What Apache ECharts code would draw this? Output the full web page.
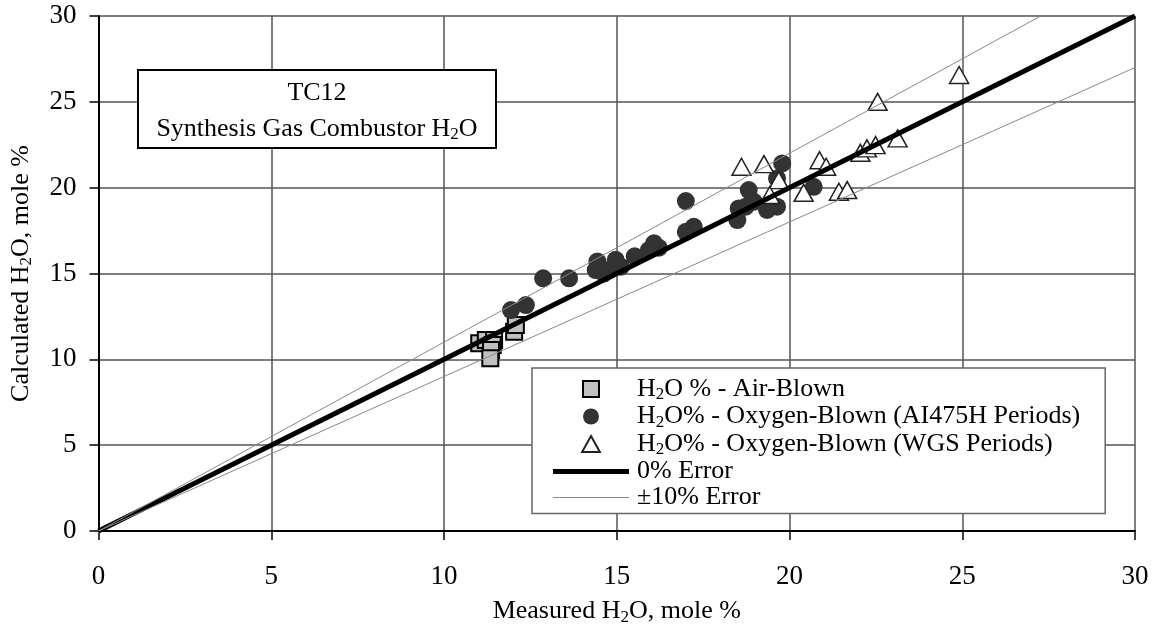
<!DOCTYPE html>
<html><head><meta charset="utf-8">
<script src="https://cdn.jsdelivr.net/npm/echarts@6/dist/echarts.min.js"></script>
<style>html,body{margin:0;padding:0;background:#fff}#c{width:1157px;height:632px}</style>
</head><body><div id="c"></div>
<script>
// ---- data ----
const axisMin = 0, axisMax = 30, axisStep = 5;
const seriesNames = [
  'H2O % - Air-Blown',
  'H2O% - Oxygen-Blown (AI475H Periods)',
  'H2O% - Oxygen-Blown (WGS Periods)',
  '0% Error',
  '±10% Error'
];
const airBlown = [
  [11.02,10.93],[11.21,11.12],[11.45,11.12],[11.41,10.83],[11.36,10.54],[11.34,10.06],[12.03,11.61],[12.08,12.0]
];
const oxyAI475H = [
  [11.94,12.87],[12.37,13.16],[12.87,14.72],[13.62,14.72],[14.39,15.2],[14.44,15.7],[14.63,15.0],[14.78,15.2],
  [14.97,15.8],[15.12,15.4],[15.52,16.0],[15.93,16.36],[16.08,16.76],[16.22,16.5],[17.0,19.22],[17.0,17.43],
  [17.23,17.72],[18.49,18.11],[18.53,18.79],[18.73,18.89],[18.82,19.86],[18.97,19.18],[19.35,18.7],[19.64,18.89],
  [19.64,20.54],[19.79,21.41],[20.7,20.05]
];
const oxyWGS = [
  [18.61,21.22],[19.26,21.37],[19.69,20.44],[19.43,19.57],[20.87,21.6],[21.06,21.22],[20.41,19.7],[21.43,19.76],
  [21.67,19.86],[22.05,22.03],[22.24,22.29],[22.49,22.48],[23.13,22.87],[22.55,25.0],[24.91,26.56]
];
const zeroErrLine = [[0,0],[30,30]];
const plusTenLine = [[0,0],[27.27,30]];
const minusTenLine = [[0,0],[30,27]];
const titleLines = ['TC12', 'Synthesis Gas Combustor H2O'];
const xTitle = 'Measured H2O, mole %';
const yTitle = 'Calculated H2O, mole %';

// ---- rendering ----
const F = '"Liberation Serif","Times New Roman",serif';
const FS = 26;
const richStyles = {
  t: {fontFamily: F, fontSize: FS, color: '#000', lineHeight: 29},
  s: {fontFamily: F, fontSize: 17, color: '#000', lineHeight: 6, verticalAlign: 'bottom'}
};
function rich(str) {
  return str.split('H2O').map(p => p ? '{t|' + p + '}' : '').join('{t|H}{s|2}{t|O}');
}
const legendIcons = [
  'path://M0,0L10,0L10,10L0,10Z',
  'circle',
  'path://M5,0L10,9L0,9Z',
  'path://M0,0H76V5H0Z',
  'path://M0,0H76V1H0Z'
];

const chart = echarts.init(document.getElementById('c'), null, {renderer: 'canvas'});
chart.setOption({
  animation: false,
  backgroundColor: '#fff',
  grid: {left: 97, right: 22, top: 16, bottom: 101, containLabel: false},
  xAxis: {
    type: 'value', min: axisMin, max: axisMax, interval: axisStep,
    name: rich(xTitle), nameLocation: 'middle', nameGap: 66,
    nameTextStyle: {rich: richStyles},
    axisLine: {lineStyle: {color: '#000', width: 2}},
    axisTick: {show: true, length: 9, lineStyle: {color: '#000', width: 1.5}},
    axisLabel: {fontFamily: F, fontSize: 27, color: '#000', margin: 32},
    splitLine: {show: true, lineStyle: {color: '#555', width: 1.5}}
  },
  yAxis: {
    type: 'value', min: axisMin, max: axisMax, interval: axisStep,
    name: rich(yTitle), nameLocation: 'middle', nameGap: 63,
    nameTextStyle: {rich: richStyles},
    axisLine: {show: true, lineStyle: {color: '#000', width: 2}},
    axisTick: {show: true, length: 9, lineStyle: {color: '#000', width: 1.5}},
    axisLabel: {fontFamily: F, fontSize: 27, color: '#000', margin: 22},
    splitLine: {show: true, lineStyle: {color: '#555', width: 1.5}}
  },
  legend: {
    data: seriesNames.map((n, i) => ({
      name: n, icon: legendIcons[i],
      itemStyle: i >= 3 ? {borderWidth: 0} : undefined
    })),
    orient: 'vertical', left: 532, top: 368,
    padding: [8, 25, 3, 21],
    itemWidth: 76, itemHeight: 16, itemGap: 0,
    symbolKeepAspect: true,
    borderColor: '#666', borderWidth: 1.5, backgroundColor: '#fff',
    selectedMode: false,
    formatter: n => '{g| }' + rich(n),
    textStyle: {rich: Object.assign({g: {width: 3, fontSize: 4, lineHeight: 29}}, richStyles)}
  },
  graphic: [
    {type: 'rect', z: 10, shape: {x: 138, y: 70, width: 358, height: 78},
     style: {fill: '#fff', stroke: '#000', lineWidth: 2}},
    {type: 'text', z: 11, x: 317, y: 93,
     style: {text: rich(titleLines[0]), rich: richStyles, align: 'center', verticalAlign: 'middle'}},
    {type: 'text', z: 11, x: 317, y: 129,
     style: {text: rich(titleLines[1]), rich: richStyles, align: 'center', verticalAlign: 'middle'}}
  ],
  series: [
    {name: seriesNames[3], type: 'line', data: zeroErrLine, symbol: 'none', silent: true,
     lineStyle: {color: '#000', width: 5}, itemStyle: {color: '#000', borderWidth: 0}},
    {name: seriesNames[4], type: 'line', data: plusTenLine, symbol: 'none', silent: true,
     lineStyle: {color: '#888', width: 1}, itemStyle: {color: '#888', borderWidth: 0}},
    {name: seriesNames[4], type: 'line', data: minusTenLine, symbol: 'none', silent: true,
     lineStyle: {color: '#888', width: 1}, itemStyle: {color: '#888', borderWidth: 0}},
    {name: seriesNames[0], type: 'scatter', data: airBlown, symbol: 'rect', symbolSize: 16,
     itemStyle: {color: '#c0c0c0', borderColor: '#000', borderWidth: 2, opacity: 1}},
    {name: seriesNames[1], type: 'scatter', data: oxyAI475H, symbol: 'circle', symbolSize: 18,
     itemStyle: {color: '#333333', opacity: 1}},
    {name: seriesNames[2], type: 'scatter', data: oxyWGS, symbol: 'triangle', symbolSize: [19, 17],
     itemStyle: {color: '#ffffff', borderColor: '#222', borderWidth: 1.5, opacity: 1}}
  ]
});
</script></body></html>
